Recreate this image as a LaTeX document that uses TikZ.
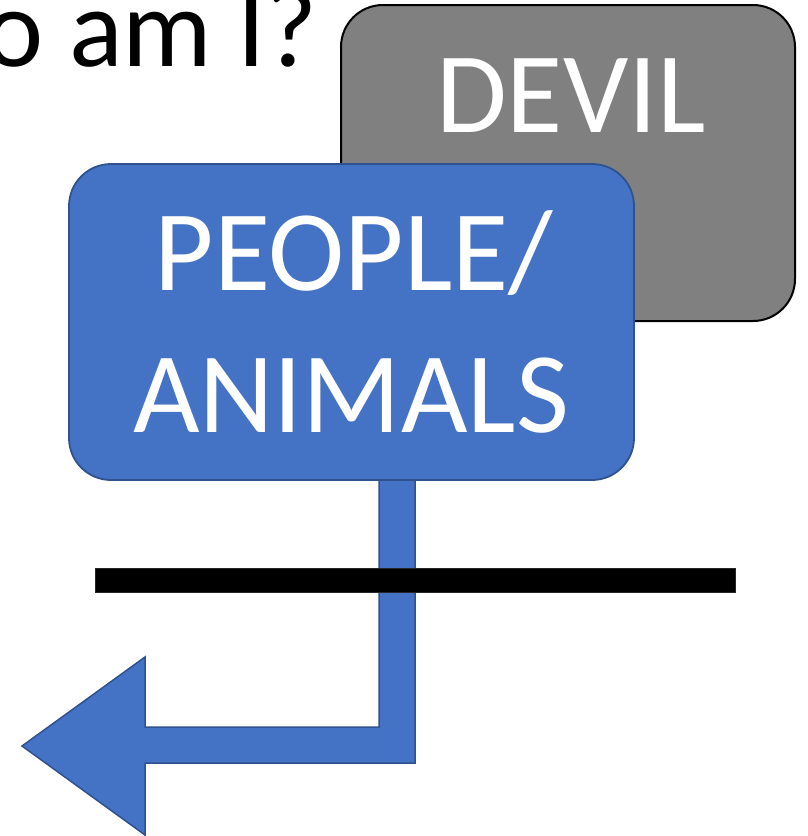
\documentclass[tikz,border=0pt]{standalone}
\usepackage{fontspec}
\setmainfont{Carlito}
\definecolor{devilgray}{HTML}{808080}
\definecolor{pblue}{HTML}{4472C4}
\definecolor{pborder}{HTML}{2F528F}
\begin{document}
\begin{tikzpicture}[x=1pt,y=-1pt,
  bigtext/.style={font=\fontsize{115}{142}\selectfont, text=white, inner sep=0pt},
  devilbox/.style={draw=black, line width=2pt, fill=devilgray, rounded corners=42pt},
  peoplebox/.style={draw=pborder, line width=1.8pt, fill=pblue, rounded corners=42pt},
  bendarrow/.style={draw=pborder, line width=1.5pt, fill=pblue, line join=miter},
  barline/.style={draw=black!85, line width=0.8pt, fill=black}]
\useasboundingbox (0,0) rectangle (807,836);
% title (partly outside the page)
\node[font=\fontsize{112}{134}\selectfont, anchor=base east, inner sep=0pt] (title) at (318,66) {Who am I?};
% devil box
\draw[devilbox] (341,5) rectangle (795,321);
\node[bigtext, anchor=base] (devil) at (571,132) {DEVIL};
% bent arrow
\draw[bendarrow] (379,470) -- (415,470) -- (415,763) -- (145,763) -- (145,835) -- (22,746) -- (145,657) -- (145,727) -- (379,727) -- cycle;
% people box
\draw[peoplebox] (69,164) rectangle (634,480);
\node[bigtext, anchor=base] (people) at (354,290) {PEOPLE/};
\node[bigtext, anchor=base] (animals) at (351,432) {ANIMALS};
% black bar
\draw[barline] (95,568) rectangle (735,592);
\end{tikzpicture}
\end{document}
